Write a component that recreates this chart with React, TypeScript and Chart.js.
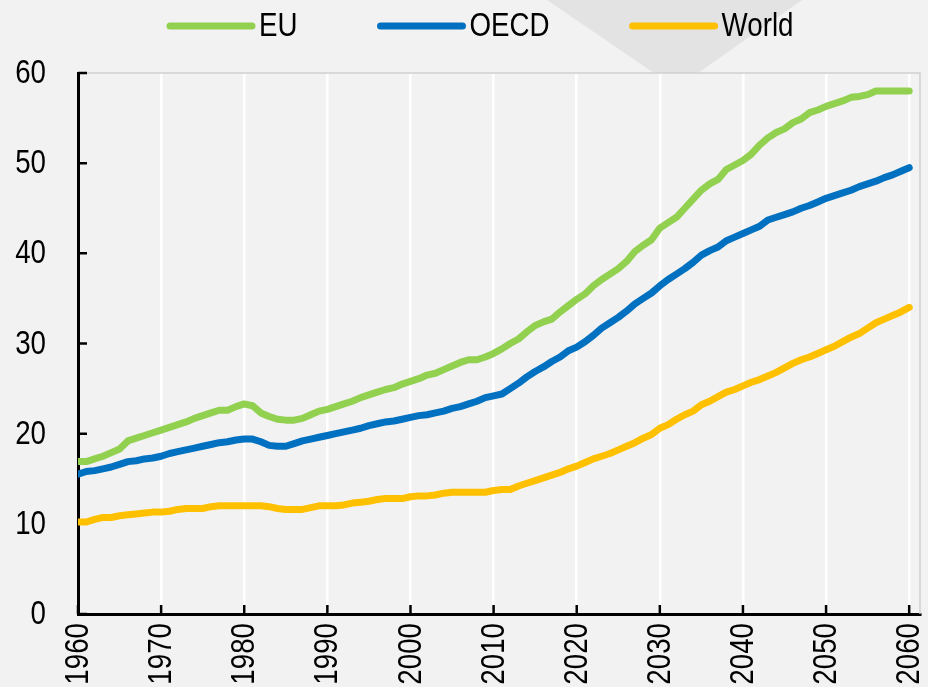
import React, { useEffect, useRef } from "react";
import { Chart, registerables } from "chart.js";

Chart.register(...registerables);

const years: number[] = Array.from({ length: 101 }, (_, i) => 1960 + i);

const seriesNames = ["EU", "OECD", "World"];
const seriesColors = ["#92D050", "#0070C0", "#FFC000"];

const euValues = [
  16.9, 16.9, 17.2, 17.5, 17.9, 18.3, 19.2, 19.5, 19.8, 20.1,
  20.4, 20.7, 21.0, 21.3, 21.7, 22.0, 22.3, 22.6, 22.6, 23.0,
  23.3, 23.1, 22.3, 21.9, 21.6, 21.5, 21.5, 21.7, 22.1, 22.5,
  22.7, 23.0, 23.3, 23.6, 24.0, 24.3, 24.6, 24.9, 25.1, 25.5,
  25.8, 26.1, 26.5, 26.7, 27.1, 27.5, 27.9, 28.2, 28.2, 28.5,
  28.9, 29.4, 30.0, 30.5, 31.3, 32.0, 32.4, 32.7, 33.5, 34.2,
  34.9, 35.5, 36.4, 37.1, 37.7, 38.3, 39.1, 40.2, 40.9, 41.5,
  42.8, 43.4, 44.0, 45.0, 46.0, 47.0, 47.7, 48.2, 49.3, 49.8,
  50.3, 51.0, 52.0, 52.8, 53.4, 53.8, 54.5, 54.9, 55.6, 55.9,
  56.3, 56.6, 56.9, 57.3, 57.4, 57.6, 58.0, 58.0, 58.0, 58.0,
  58.0,
];

const oecdValues = [
  15.5, 15.8, 15.9, 16.1, 16.3, 16.6, 16.9, 17.0, 17.2, 17.3,
  17.5, 17.8, 18.0, 18.2, 18.4, 18.6, 18.8, 19.0, 19.1, 19.3,
  19.4, 19.4, 19.1, 18.7, 18.6, 18.6, 18.9, 19.2, 19.4, 19.6,
  19.8, 20.0, 20.2, 20.4, 20.6, 20.9, 21.1, 21.3, 21.4, 21.6,
  21.8, 22.0, 22.1, 22.3, 22.5, 22.8, 23.0, 23.3, 23.6, 24.0,
  24.2, 24.4, 25.0, 25.6, 26.3, 26.9, 27.4, 28.0, 28.5, 29.2,
  29.6, 30.2, 30.9, 31.7, 32.3, 32.9, 33.6, 34.4, 35.0, 35.6,
  36.4, 37.1, 37.7, 38.3, 39.0, 39.8, 40.3, 40.7, 41.4, 41.8,
  42.2, 42.6, 43.0, 43.7, 44.0, 44.3, 44.6, 45.0, 45.3, 45.7,
  46.1, 46.4, 46.7, 47.0, 47.4, 47.7, 48.0, 48.4, 48.7, 49.1,
  49.5,
];

const worldValues = [
  10.2, 10.2, 10.5, 10.7, 10.7, 10.9, 11.0, 11.1, 11.2, 11.3,
  11.3, 11.4, 11.6, 11.7, 11.7, 11.7, 11.9, 12.0, 12.0, 12.0,
  12.0, 12.0, 12.0, 11.9, 11.7, 11.6, 11.6, 11.6, 11.8, 12.0,
  12.0, 12.0, 12.1, 12.3, 12.4, 12.5, 12.7, 12.8, 12.8, 12.8,
  13.0, 13.1, 13.1, 13.2, 13.4, 13.5, 13.5, 13.5, 13.5, 13.5,
  13.7, 13.8, 13.8, 14.2, 14.5, 14.8, 15.1, 15.4, 15.7, 16.1,
  16.4, 16.8, 17.2, 17.5, 17.8, 18.2, 18.6, 19.0, 19.5, 19.9,
  20.6, 21.0, 21.6, 22.1, 22.5, 23.2, 23.6, 24.1, 24.6, 24.9,
  25.3, 25.7, 26.0, 26.4, 26.8, 27.3, 27.8, 28.2, 28.5, 28.9,
  29.3, 29.7, 30.2, 30.7, 31.1, 31.7, 32.3, 32.7, 33.1, 33.5,
  34.0,
];

const xTickLabels = [1960, 1970, 1980, 1990, 2000, 2010, 2020, 2030, 2040, 2050, 2060];
const yTickLabels = [0, 10, 20, 30, 40, 50, 60];

const FONT = "'Liberation Sans', Arial, sans-serif";
const FONT_SIZE = 33;
const NARROW = 0.84;
const BG = "#f2f2f2";

const decoPlugin = {
  id: "deco",
  beforeDraw(chart: any) {
    const { ctx, width, height, chartArea } = chart;
    ctx.save();
    ctx.fillStyle = BG;
    ctx.fillRect(0, 0, width, height);
    ctx.fillStyle = "#e3e3e3";
    ctx.beginPath();
    ctx.moveTo(547, 0);
    ctx.lineTo(802, 0);
    ctx.lineTo(698, chartArea.top);
    ctx.lineTo(654, chartArea.top);
    ctx.closePath();
    ctx.fill();
    ctx.restore();
  },
  beforeDatasetsDraw(chart: any) {
    const { ctx, chartArea, scales } = chart;
    ctx.save();
    ctx.strokeStyle = "#cfcfcf";
    ctx.lineWidth = 1.5;
    ctx.beginPath();
    ctx.moveTo(chartArea.left, chartArea.top);
    ctx.lineTo(chartArea.right, chartArea.top);
    ctx.lineTo(chartArea.right, chartArea.bottom);
    ctx.stroke();
    ctx.strokeStyle = "#000";
    ctx.lineWidth = 2.5;
    ctx.beginPath();
    scales.y.ticks.forEach((t: any) => {
      const y = scales.y.getPixelForValue(t.value);
      ctx.moveTo(chartArea.left, y);
      ctx.lineTo(chartArea.left + 9, y);
    });
    scales.x.ticks.forEach((t: any) => {
      const x = scales.x.getPixelForValue(t.value);
      ctx.moveTo(x, chartArea.bottom);
      ctx.lineTo(x, chartArea.bottom - 9);
    });
    ctx.stroke();
    ctx.restore();
  },
  afterDraw(chart: any) {
    const { ctx, chartArea, scales } = chart;
    ctx.save();
    ctx.font = `${FONT_SIZE}px ${FONT}`;
    ctx.fillStyle = "#000";
    // y tick labels
    scales.y.ticks.forEach((t: any) => {
      const y = scales.y.getPixelForValue(t.value);
      ctx.save();
      ctx.translate(chartArea.left - 32, y);
      ctx.scale(NARROW, 1);
      ctx.textAlign = "right";
      ctx.textBaseline = "middle";
      ctx.fillText(String(t.value), 0, 1);
      ctx.restore();
    });
    // x tick labels, rotated
    scales.x.ticks.forEach((t: any) => {
      const x = scales.x.getPixelForValue(t.value);
      ctx.save();
      ctx.translate(x, chartArea.bottom + 9);
      ctx.rotate(-Math.PI / 2);
      ctx.scale(NARROW, 1);
      ctx.textAlign = "right";
      ctx.textBaseline = "middle";
      ctx.fillText(String(t.value), 0, 1);
      ctx.restore();
    });
    // legend
    let x = 167;
    const ly = 26;
    chart.data.datasets.forEach((ds: any) => {
      ctx.strokeStyle = ds.borderColor;
      ctx.lineWidth = 7;
      ctx.lineCap = "round";
      ctx.beginPath();
      ctx.moveTo(x + 3, ly);
      ctx.lineTo(x + 85, ly);
      ctx.stroke();
      const w = ctx.measureText(ds.label).width * NARROW;
      ctx.save();
      ctx.translate(x + 92, ly + 1);
      ctx.scale(NARROW, 1);
      ctx.textAlign = "left";
      ctx.textBaseline = "middle";
      ctx.fillText(ds.label, 0, 0);
      ctx.restore();
      x += 92 + w + 80;
    });
    ctx.restore();
  },
};

export default function App() {
  const ref = useRef<HTMLCanvasElement | null>(null);

  useEffect(() => {
    document.body.style.margin = "0";
    document.body.style.background = BG;
    const canvas = ref.current;
    if (!canvas) return;
    const valuesList = [euValues, oecdValues, worldValues];
    const chart = new Chart(canvas, {
      type: "line",
      data: {
        datasets: seriesNames.map((name, i) => ({
          label: name,
          data: years.map((yr, j) => ({ x: yr, y: valuesList[i][j] })),
          borderColor: seriesColors[i],
          backgroundColor: seriesColors[i],
          borderWidth: 7,
          borderCapStyle: "round",
          borderJoinStyle: "round",
          pointRadius: 0,
          tension: 0,
          fill: false,
        })),
      },
      options: {
        responsive: false,
        animation: false,
        devicePixelRatio: 1,
        layout: { padding: { top: 73, right: 8, left: 0, bottom: 0 } },
        plugins: {
          legend: { display: false },
          tooltip: { enabled: false },
        },
        scales: {
          x: {
            type: "linear",
            min: 1960,
            max: 2061.3,
            afterBuildTicks: (axis: any) => {
              axis.ticks = xTickLabels.map((v) => ({ value: v }));
            },
            afterFit: (axis: any) => {
              axis.height = 73;
            },
            grid: { color: "#ffffff", lineWidth: 2.5, drawTicks: false },
            border: { color: "#000000", width: 3 },
            ticks: { display: false },
          },
          y: {
            min: yTickLabels[0],
            max: yTickLabels[yTickLabels.length - 1],
            afterBuildTicks: (axis: any) => {
              axis.ticks = yTickLabels.map((v) => ({ value: v }));
            },
            afterFit: (axis: any) => {
              axis.width = 78;
            },
            grid: { drawOnChartArea: false, drawTicks: false },
            border: { color: "#000000", width: 3 },
            ticks: { display: false },
          },
        },
      },
      plugins: [decoPlugin],
    } as any);
    return () => chart.destroy();
  }, []);

  return (
    <div style={{ width: 928, height: 687, background: BG }}>
      <canvas ref={ref} width={928} height={687} style={{ display: "block" }} />
    </div>
  );
}
